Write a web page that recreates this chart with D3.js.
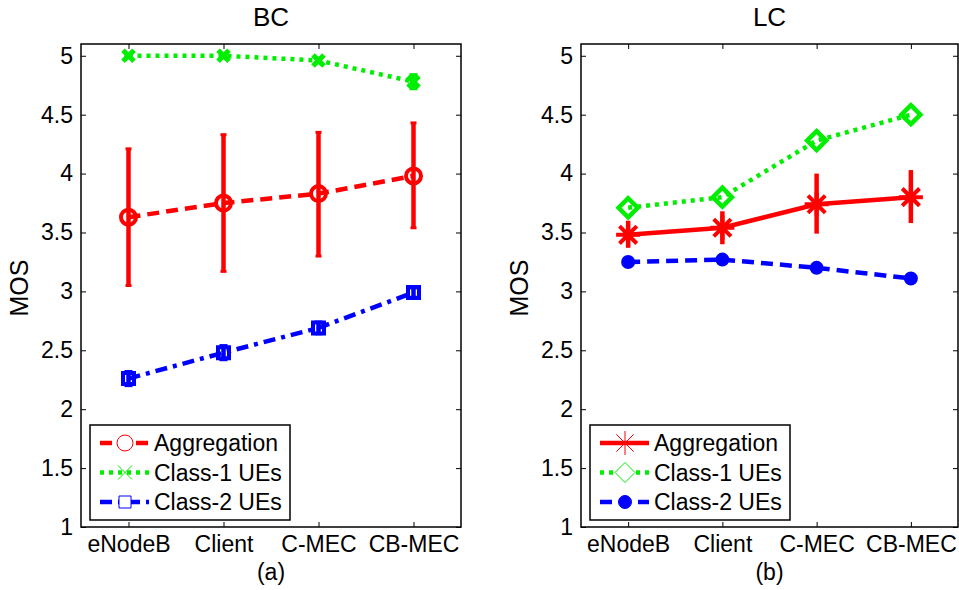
<!DOCTYPE html>
<html lang="en">
<head>
<meta charset="UTF-8">
<title>MOS BC / LC</title>
<script src="https://cdn.jsdelivr.net/npm/d3@7"></script>
<style>
  body { margin: 0; background: #fff; }
  text { font-family: "Liberation Sans", Arial, sans-serif; fill: #000; }
</style>
</head>
<body>
<script>
// ---- data ----
const categories = ["eNodeB", "Client", "C-MEC", "CB-MEC"];
const yTicks = [1, 1.5, 2, 2.5, 3, 3.5, 4, 4.5, 5];
const legendLabels = ["Aggregation", "Class-1 UEs", "Class-2 UEs"];

// BC panel
const bcAggregation = [3.63, 3.75, 3.83, 3.98];
const bcAggLow = [3.05, 3.17, 3.30, 3.54];
const bcAggHigh = [4.21, 4.33, 4.35, 4.43];
const bcClass1 = [5.0, 5.0, 4.96, 4.78];
const bcClass1Err = [0.01, 0.01, 0.02, 0.06];
const bcClass2 = [2.26, 2.48, 2.69, 2.99];
const bcClass2Err = [0.06, 0.06, 0.05, 0.04];

// LC panel
const lcAggregation = [3.48, 3.54, 3.74, 3.80];
const lcAggLow = [3.37, 3.40, 3.49, 3.58];
const lcAggHigh = [3.60, 3.68, 4.00, 4.03];
const lcClass1 = [3.71, 3.80, 4.28, 4.50];
const lcClass2 = [3.25, 3.27, 3.20, 3.11];

const width = 959, height = 590;
const red = "#ff0000", green = "#00ee00", blue = "#0000ff";

const svg = d3.select("body").append("svg")
  .attr("width", width).attr("height", height);

// marker shapes
function markerPath(type, s) {
  const p = d3.path();
  if (type === "circle") {
    p.moveTo(s, 0); p.arc(0, 0, s, 0, 2 * Math.PI);
  } else if (type === "x") {
    p.moveTo(-s, -s); p.lineTo(s, s); p.moveTo(-s, s); p.lineTo(s, -s);
  } else if (type === "square") {
    p.rect(-s, -s, 2 * s, 2 * s);
  } else if (type === "star") {
    const d = s * 0.72;
    p.moveTo(0, -s); p.lineTo(0, s); p.moveTo(-s, 0); p.lineTo(s, 0);
    p.moveTo(-d, -d); p.lineTo(d, d); p.moveTo(-d, d); p.lineTo(d, -d);
  } else if (type === "diamond") {
    p.moveTo(0, -s); p.lineTo(s, 0); p.lineTo(0, s); p.lineTo(-s, 0); p.closePath();
  }
  return p.toString();
}

function panel(opt) {
  const g = svg.append("g");
  const x = d3.scaleLinear().domain([0.5, 4.5]).range([opt.left, opt.right]);
  const y = d3.scaleLinear().domain([1, 5.1]).range([527, 44]);
  const idx = [1, 2, 3, 4];

  // axes
  g.append("g").attr("transform", `translate(${opt.left},0)`)
    .call(d3.axisLeft(y).tickValues(yTicks).tickFormat(d => d).tickSize(-5).tickPadding(8));
  g.append("g").attr("transform", `translate(${opt.right},0)`)
    .call(d3.axisRight(y).tickValues(yTicks).tickFormat("").tickSize(-5));
  g.append("g").attr("transform", "translate(0,527)")
    .call(d3.axisBottom(x).tickValues(idx).tickFormat(i => categories[i - 1]).tickSize(-5).tickPadding(9));
  g.append("g").attr("transform", "translate(0,44)")
    .call(d3.axisTop(x).tickValues(idx).tickFormat("").tickSize(-5));
  g.selectAll(".domain").remove();
  g.selectAll(".tick line").attr("stroke", "#000").attr("stroke-width", 1);
  g.selectAll(".tick text").style("font-size", "23px");

  g.append("rect")
    .attr("x", opt.left).attr("y", 44)
    .attr("width", opt.right - opt.left).attr("height", 527 - 44)
    .attr("fill", "none").attr("stroke", "#000").attr("stroke-width", 1.5);

  // title, labels
  const cx = (opt.left + opt.right) / 2;
  g.append("text").attr("x", cx).attr("y", 26).attr("text-anchor", "middle")
    .style("font-size", "26px").text(opt.title);
  g.append("text").attr("x", cx).attr("y", 580).attr("text-anchor", "middle")
    .style("font-size", "23px").text(opt.sub);
  g.append("text").attr("transform", `translate(${opt.left - 53},288) rotate(-90)`)
    .attr("text-anchor", "middle").style("font-size", "25px").text("MOS");

  const line = d3.line().x((d, i) => x(i + 1)).y(d => y(d));

  opt.series.forEach(s => {
    // error bars
    if (s.low) {
      s.values.forEach((v, i) => {
        const xi = x(i + 1);
        g.append("line").attr("x1", xi).attr("x2", xi)
          .attr("y1", y(s.low[i])).attr("y2", y(s.high[i]))
          .attr("stroke", s.color).attr("stroke-width", 4.5);
        if (s.cap) {
          [s.low[i], s.high[i]].forEach(e => {
            g.append("line").attr("x1", xi - s.cap).attr("x2", xi + s.cap)
              .attr("y1", y(e)).attr("y2", y(e))
              .attr("stroke", s.color).attr("stroke-width", 3);
          });
        }
      });
    }
    g.append("path").datum(s.values)
      .attr("d", line).attr("fill", "none")
      .attr("stroke", s.color).attr("stroke-width", 4.5)
      .attr("stroke-dasharray", s.dash);
    g.selectAll(null).data(s.values).enter().append("path")
      .attr("transform", (d, i) => `translate(${x(i + 1)},${y(d)})`)
      .attr("d", markerPath(s.marker, s.size))
      .attr("fill", s.filled ? s.color : "none")
      .attr("stroke", s.color).attr("stroke-width", s.mw);
  });

  // legend
  const lx = opt.left + 9, ly = 425;
  const lg = g.append("g");
  lg.append("rect").attr("x", lx).attr("y", ly).attr("width", 200).attr("height", 95)
    .attr("fill", "#fff").attr("stroke", "#000").attr("stroke-width", 1.5);
  opt.series.forEach((s, k) => {
    const ry = 443 + k * 29.5;
    lg.append("line").attr("x1", lx + 10).attr("x2", lx + 59)
      .attr("y1", ry).attr("y2", ry)
      .attr("stroke", s.color).attr("stroke-width", 4.5)
      .attr("stroke-dasharray", s.legDash || s.dash);
    lg.append("path").attr("transform", `translate(${lx + 35},${ry})`)
      .attr("d", markerPath(s.marker, s.legSize || s.size))
      .attr("fill", s.filled ? s.color : "#fff")
      .attr("stroke", s.color).attr("stroke-width", 1);
    lg.append("text").attr("x", lx + 64).attr("y", ry + 8)
      .style("font-size", "23px").text(legendLabels[k]);
  });
}

panel({
  left: 81, right: 461, title: "BC", sub: "(a)",
  series: [
    { values: bcAggregation, low: bcAggLow, high: bcAggHigh, cap: 3, color: red,
      dash: "12,7", marker: "circle", size: 7.5, mw: 4, legSize: 8, legDash: "12,6" },
    { values: bcClass1, low: bcClass1.map((v, i) => v - bcClass1Err[i]),
      high: bcClass1.map((v, i) => v + bcClass1Err[i]), cap: 4, color: green,
      dash: "4,5", marker: "x", size: 5.5, mw: 5, legSize: 7 },
    { values: bcClass2, low: bcClass2.map((v, i) => v - bcClass2Err[i]),
      high: bcClass2.map((v, i) => v + bcClass2Err[i]), cap: 4, color: blue,
      dash: "12,6,4,6", marker: "square", size: 5.5, mw: 4, legSize: 6 }
  ]
});

panel({
  left: 581, right: 958, title: "LC", sub: "(b)",
  series: [
    { values: lcAggregation, low: lcAggLow, high: lcAggHigh, cap: 0, color: red,
      dash: null, marker: "star", size: 12, mw: 4, legSize: 12 },
    { values: lcClass1, color: green, dash: "4,5", marker: "diamond", size: 9.5, mw: 4.5,
      legSize: 10 },
    { values: lcClass2, color: blue, dash: "12,7", marker: "circle", size: 6, mw: 2,
      filled: true, legSize: 6.5 }
  ]
});
</script>
</body>
</html>
